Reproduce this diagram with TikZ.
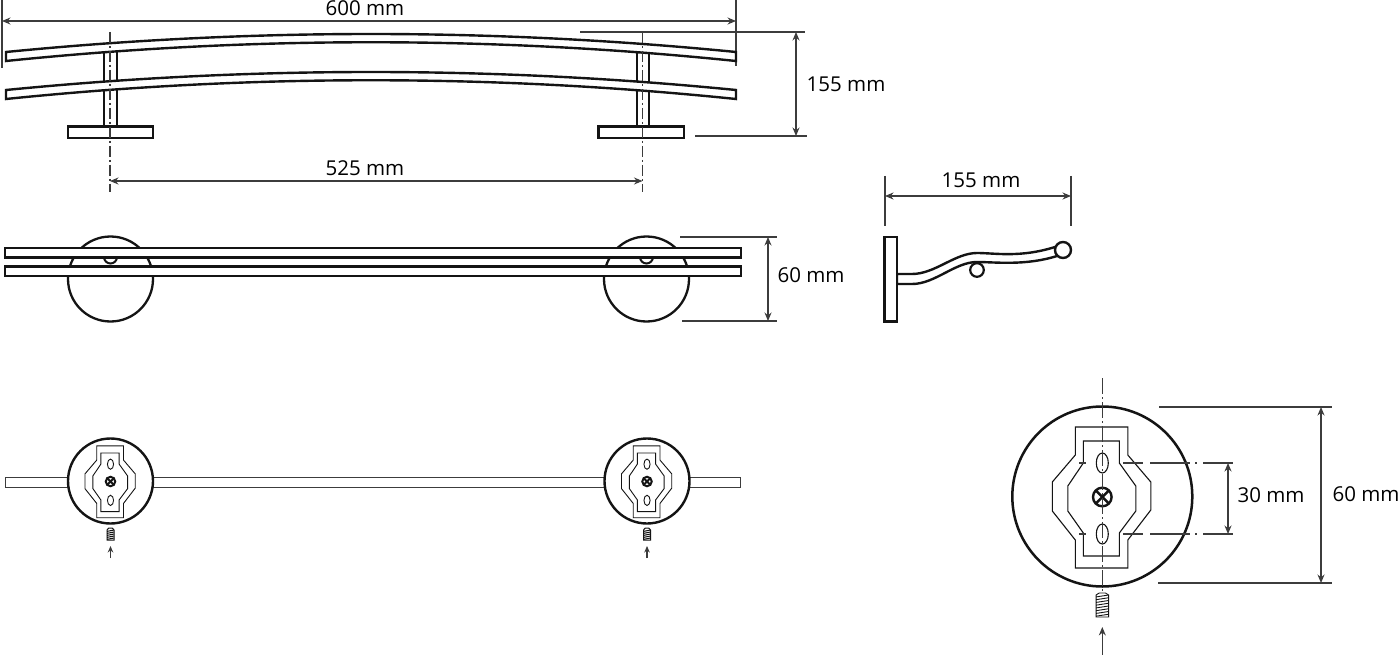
\documentclass[tikz,border=0pt]{standalone}
\usepackage{fontspec}
\setmainfont{Open Sans}
\usetikzlibrary{arrows.meta}
\definecolor{dimgray}{HTML}{3C3C3C}
\definecolor{inkline}{HTML}{141414}
\tikzset{
  obj/.style={draw=inkline,line width=2.4pt,fill=white,line join=miter},
  ext/.style={draw=dimgray,line width=1.1pt},
  dimline/.style={draw=dimgray,line width=1.1pt,{Stealth[length=8.5pt,width=7pt]}-{Stealth[length=8.5pt,width=7pt]}},
  axis/.style={draw=dimgray,line width=1.1pt,dash pattern=on 11pt off 3pt on 2pt off 3pt},
  lbl/.style={font=\fontsize{20.5}{24}\selectfont,text=black,inner sep=0pt},
}
% \topbar{y of the upper left corner}
\newcommand{\topbar}[1]{
  \path[obj] (6,#1) .. controls (249.33,#1-24) and (492.67,#1-24) .. (736,#1)
     -- (736,#1+9) .. controls (492.67,#1-16) and (249.33,#1-16) .. (6,#1+9) -- cycle;
}
% \platedraw{centre x}{centre y}{scale}{line width}{screw width}
\newcommand{\platedraw}[5]{
  \begin{scope}[shift={(#1,#2)},scale=#3]
    \draw[draw=inkline,line width=#4]
      (-27,-69) -- (25.5,-69) -- (25.5,-41) -- (48.5,-14) -- (48.5,14) -- (25.5,44) -- (25.5,72)
      -- (-27,72) -- (-27,44) -- (-50,15) -- (-50,-14) -- (-27,-41) -- cycle;
    \draw[draw=inkline,line width=#4]
      (-19,-55) -- (17,-55) -- (17,-33) -- (33.5,-10) -- (33.5,15) -- (17,37) -- (17,60)
      -- (-19,60) -- (-19,37) -- (-34.5,15) -- (-34.5,-10) -- (-19,-33) -- cycle;
    \draw[draw=inkline,line width=#4] (0,-33) ellipse [x radius=6,y radius=10];
    \draw[draw=inkline,line width=#4] (0,38) ellipse [x radius=6,y radius=10];
    \draw[draw=inkline,line width=#5] (0,1) circle (9.3);
    \draw[draw=inkline,line width=#5] (-6.4,-5.4) -- (6.4,7.4) (6.4,-5.4) -- (-6.4,7.4);
  \end{scope}
}
% \threaddraw{centre x}{top y}{width}{height}{turns}{line width}
\newcommand{\threaddraw}[6]{
  \draw[draw=inkline,line width=#6] (#1-#3/2,#2+2) -- (#1-#3/4,#2) -- (#1+#3/4,#2) -- (#1+#3/2,#2+2)
     -- (#1+#3/2,#2+#4) -- (#1-#3/2,#2+#4) -- cycle;
  \foreach \k in {1,...,#5}{
    \draw[draw=inkline,line width=#6] (#1-#3/2,{#2+2+(\k-0.3)*(#4-2)/#5}) -- (#1+#3/2,{#2+2+(\k-1)*(#4-2)/#5});
  }
}
\begin{document}
\begin{tikzpicture}[x=1pt,y=-1pt]
\useasboundingbox (0,0) rectangle (1399,655);
\fill[white] (0,0) rectangle (1399,655);

% ---------- top view ----------
\coordinate (la) at (2,21);  \coordinate (ra) at (736,21);
\draw[ext] (2,0) -- (2,68);
\draw[ext] (736,0) -- (736,66);
\draw[dimline] (la) -- (ra);
\node[lbl] (t600) at (365,8) {600 mm};

\draw[ext] (580,32) -- (805,32);
\draw[ext] (695,136) -- (807,136);
\coordinate (h1) at (796,32); \coordinate (h2) at (796,136);
\draw[dimline] (h1) -- (h2);
\node[lbl] (t155a) at (846,84) {155 mm};

% posts
\foreach \xa/\xb in {104/117,637/649}{
  \path[obj] (\xa,50) rectangle (\xb,127);
}
\topbar{52}
\topbar{90}
\path[obj] (68,126.5) rectangle (153,138);
\path[obj] (598.5,126.5) rectangle (684,138);
\draw[axis] (110,32) -- (110,192);
\draw[axis] (642.5,32) -- (642.5,192);
\coordinate (w1) at (110,181); \coordinate (w2) at (642.5,181);
\draw[dimline] (w1) -- (w2);
\node[lbl] (t525) at (365,168) {525 mm};

% ---------- front view ----------
\foreach \cx in {110.5,646.5}{
  \draw[draw=inkline,line width=2.3pt] (\cx,279) circle (42.5);
  \draw[draw=inkline,line width=2pt] (\cx,257) circle (6.5);
}
\path[obj] (5,248) rectangle (741,257.5);
\path[obj] (5,266.5) rectangle (741,276);
\draw[ext] (680,237) -- (777,237);
\draw[ext] (682,321) -- (777,321);
\coordinate (f1) at (768,237); \coordinate (f2) at (768,321);
\draw[dimline] (f1) -- (f2);
\node[lbl] (t60a) at (811,275) {60 mm};

% ---------- side view ----------
\draw[draw=inkline,line width=2.2pt] (977,270) circle (6.8);
\path[obj] (897,274) -- (912,274) .. controls (935,274) and (955,253) .. (977,253)
   .. controls (995,253) and (1020,258) .. (1055,247)
   -- (1057,256) .. controls (1025,266) and (995,262) .. (977,262)
   .. controls (955,262) and (935,284) .. (912,284) -- (897,284) -- cycle;
\path[obj] (1063,250) circle (8);
\path[obj] (884.5,237) rectangle (897,321.5);
\draw[ext] (885,176) -- (885,226);
\draw[ext] (1071,176) -- (1071,226);
\coordinate (s1) at (885,196); \coordinate (s2) at (1071,196);
\draw[dimline] (s1) -- (s2);
\node[lbl] (t155b) at (981,180) {155 mm};

% ---------- back view, rod ----------
\path[draw=dimgray,line width=1pt] (5,477.5) rectangle (740,487.5);
\foreach \cx in {110.5,647}{
  \path[obj] (\cx,481) circle (42.5);
  \platedraw{\cx}{481}{0.51}{0.9pt}{2pt}
  \threaddraw{\cx}{528}{7}{12}{5}{1pt}
  \coordinate (ab) at (\cx,558); \coordinate (at) at (\cx,546);
  \draw[draw=dimgray,line width=1.1pt,-{Stealth[length=6.5pt,width=5.5pt]}] (ab) -- (at);
}

% ---------- back view, large ----------
\path[draw=inkline,line width=2.5pt,fill=white] (1102.3,496.5) circle (90);
\platedraw{1102.3}{496}{1}{1.1pt}{2.4pt}
\draw[axis,dash pattern=on 16pt off 3pt on 2pt off 3pt] (1102.3,378) -- (1102.3,592);
\draw[axis,dash pattern=on 7pt off 37pt on 20pt off 7pt on 40pt off 5pt on 2pt off 6pt on 30pt] (1079,463) -- (1236,463);
\draw[axis,dash pattern=on 7pt off 37pt on 20pt off 7pt on 40pt off 5pt on 2pt off 6pt on 30pt] (1079,534) -- (1236,534);
\threaddraw{1102.3}{593}{12.5}{24}{8}{0.9pt}
\coordinate (bb) at (1102.3,655); \coordinate (bt) at (1102.3,627);
\draw[draw=dimgray,line width=1.1pt,-{Stealth[length=8.5pt,width=7pt]}] (bb) -- (bt);

\coordinate (d1) at (1228,463); \coordinate (d2) at (1228,534);
\draw[dimline] (d1) -- (d2);
\node[lbl] (t30) at (1271,495) {30 mm};

\draw[ext] (1159,407) -- (1332,407);
\draw[ext] (1158,583) -- (1332,583);
\coordinate (e1) at (1321,407); \coordinate (e2) at (1321,583);
\draw[dimline] (e1) -- (e2);
\node[lbl] (t60b) at (1366,494) {60 mm};
\end{tikzpicture}
\end{document}
